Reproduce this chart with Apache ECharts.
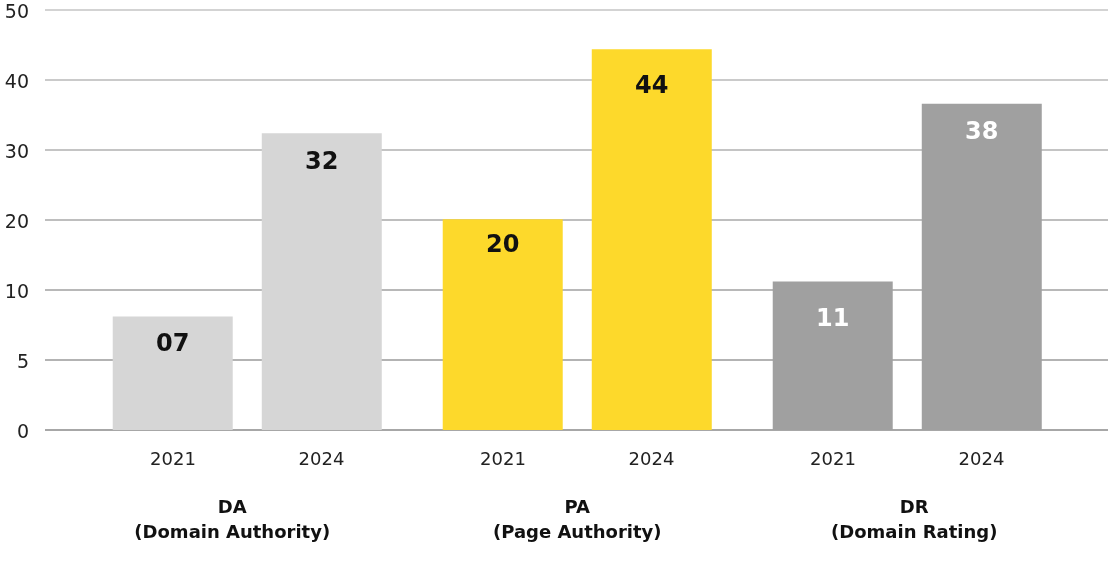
<!DOCTYPE html>
<html>
<head>
<meta charset="utf-8">
<script src="https://cdn.jsdelivr.net/npm/echarts@6/dist/echarts.min.js"></script>
<style>
  html, body { margin: 0; padding: 0; background: #fff; }
  #chart { width: 1108px; height: 568px; }
</style>
</head>
<body>
<div id="chart"></div>
<script>
// ---- data ----
const groupCodes = ['DA', 'PA', 'DR'];
const groupNames = ['(Domain Authority)', '(Page Authority)', '(Domain Rating)'];
const years = ['2021', '2024'];
// bar heights as drawn (in the chart's own y scale)
const values2021 = [8.1, 20.1, 11.2];
const values2024 = [32.4, 44.4, 36.6];
// printed labels on the bars
const labels2021 = ['07', '20', '11'];
const labels2024 = ['32', '44', '38'];
// y-axis ticks (equally spaced on the chart)
const tickValues = [0, 5, 10, 20, 30, 40, 50];
const tickLabels = ['0', '5', '10', '20', '30', '40', '50'];

// ---- styles ----
const groupColors = ['#d6d6d6', '#fdd92b', '#a0a0a0'];
const groupLabelColors = ['#111111', '#111111', '#ffffff'];
const groupTitleShift = [-15, 0, 7];        // horizontal nudge of group titles (px)
const labelNudge = [[0, -2, 10], [2, 10, 1]]; // extra vertical nudge of bar labels (px)

// piecewise scale: y value -> axis position (tick index units)
function toAxis(v) {
  for (let i = 1; i < tickValues.length; i++) {
    if (v <= tickValues[i]) {
      return (i - 1) + (v - tickValues[i - 1]) / (tickValues[i] - tickValues[i - 1]);
    }
  }
  return tickValues.length - 1;
}

const FONT = 'DejaVu Sans';

function buildData(vals, labs, s) {
  return vals.map((v, i) => ({
    value: toAxis(v),
    printed: labs[i],
    itemStyle: { color: groupColors[i] },
    label: { color: groupLabelColors[i], offset: [0, labelNudge[s][i]] }
  }));
}

const seriesValues = [values2021, values2024];
const seriesLabels = [labels2021, labels2024];

const rich = {
  y: { width: 148.5, align: 'center', fontSize: 18, lineHeight: 32, color: '#222', fontFamily: FONT },
  s: { fontSize: 10, lineHeight: 20 }
};
groupTitleShift.forEach((sh, i) => {
  rich['g' + i] = {
    align: 'center', fontSize: 18, lineHeight: 25, fontWeight: 'bold', color: '#111', fontFamily: FONT,
    padding: [0, sh < 0 ? -2 * sh : 0, 0, sh > 0 ? 2 * sh : 0]
  };
});

const chart = echarts.init(document.getElementById('chart'), null, { renderer: 'canvas' });

const option = {
  animation: false,
  backgroundColor: '#ffffff',
  grid: [
    { left: 45, right: 0, top: 10, bottom: 138, containLabel: false },
    { left: 82.25, right: 35.75, top: 10, bottom: 138, containLabel: false }
  ],
  xAxis: [
    { type: 'value', gridIndex: 0, show: false, min: 0, max: 1 },
    {
      type: 'category',
      gridIndex: 1,
      data: groupCodes,
      axisLine: { show: false },
      axisTick: { show: false },
      axisLabel: {
        interval: 0,
        margin: 14,
        fontFamily: FONT,
        formatter: function (val, idx) {
          const g = 'g' + idx;
          return '{y|' + years[0] + '}{y|' + years[1] + '}\n{s| }\n{' + g + '|' + val + '}\n{' + g + '|' + groupNames[idx] + '}';
        },
        rich: rich
      }
    }
  ],
  yAxis: [
    {
      type: 'value',
      gridIndex: 0,
      min: 0,
      max: tickValues.length - 1,
      interval: 1,
      axisLine: { show: false },
      axisTick: { show: false },
      axisLabel: {
        margin: 16,
        fontFamily: FONT,
        formatter: function (v) { return '{v|' + tickLabels[Math.round(v)] + '}'; },
        rich: {
          v: { fontSize: 19, color: '#222', fontFamily: FONT, lineHeight: 26, verticalAlign: 'bottom' }
        }
      },
      splitLine: {
        show: true,
        lineStyle: {
          width: 1.5,
          color: ['#8a8a8a', '#9a9a9a', '#a0a0a0', '#a8a8a8', '#b0b0b0', '#b8b8b8', '#c4c4c4']
        }
      }
    },
    { type: 'value', gridIndex: 1, min: 0, max: tickValues.length - 1, interval: 1, show: false, splitLine: { show: false } }
  ],
  series: years.map((yr, s) => ({
    name: yr,
    type: 'bar',
    xAxisIndex: 1,
    yAxisIndex: 1,
    barWidth: 120,
    barGap: '24.2%',
    data: buildData(seriesValues[s], seriesLabels[s], s),
    label: {
      show: true,
      position: 'insideTop',
      distance: 16,
      fontSize: 24,
      lineHeight: 24,
      fontWeight: 'bold',
      fontFamily: FONT,
      formatter: function (p) { return p.data.printed; }
    }
  }))
};

chart.setOption(option);
</script>
</body>
</html>
